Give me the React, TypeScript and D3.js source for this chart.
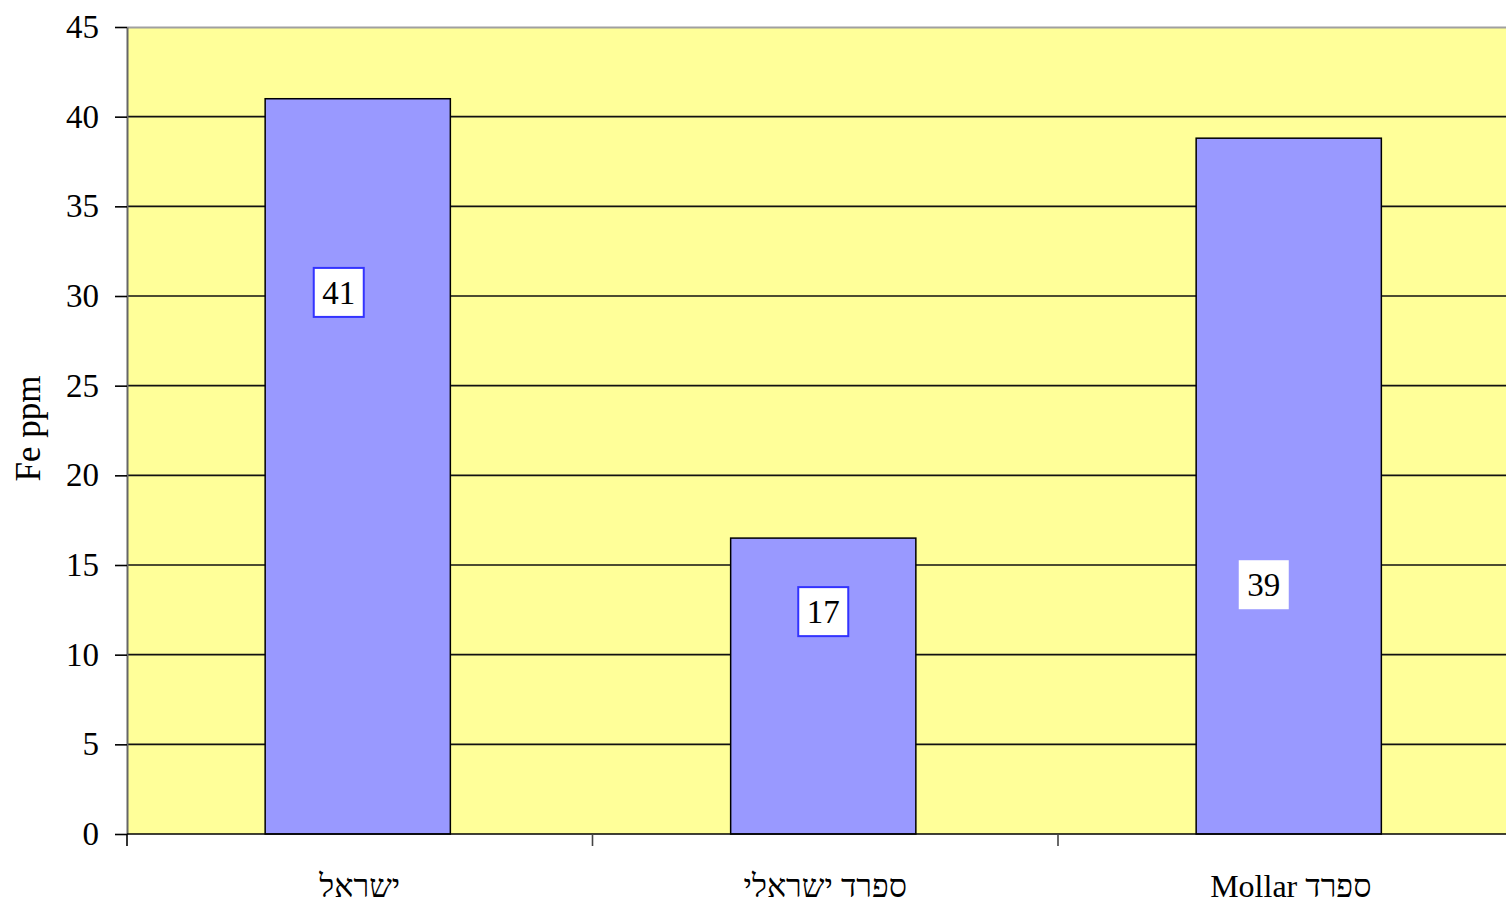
import React, { useEffect, useRef } from "react";
import * as d3 from "d3";

// Data
const categories = ["ישראל", "ספרד ישראלי", "ספרד Mollar"];
const feValues = [41, 16.5, 38.8];
const yTicks = [0, 5, 10, 15, 20, 25, 30, 35, 40, 45];

// Where each value label box sits (dx from bar centre in px, y in data units)
const labelOffsets = [
  { dx: -21, at: 30.2 },
  { dx: -2, at: 12.4 },
  { dx: -27, at: 13.9 },
];
const labelBorders = ["#3333ff", "#3333ff", "none"];

const WIDTH = 1506;
const HEIGHT = 904;
const FONT = "'Liberation Serif', 'Times New Roman', serif";

export default function App() {
  const svgRef = useRef<SVGSVGElement>(null);

  useEffect(() => {
    if (!svgRef.current) return;
    const svg = d3.select(svgRef.current);
    svg.selectAll("*").remove();

    // plot area runs a bit past the right edge of the picture
    const margin = { top: 27, left: 127 };
    const innerWidth = 1396.5;
    const innerHeight = 807;

    const g = svg
      .append("g")
      .attr("transform", `translate(${margin.left},${margin.top})`);

    const x = d3
      .scaleBand<string>()
      .domain(categories)
      .range([0, innerWidth])
      .paddingInner(0.6)
      .paddingOuter(0.3);

    const y = d3.scaleLinear().domain([0, 45]).range([innerHeight, 0]);

    // Plot background
    g.append("rect")
      .attr("x", 0)
      .attr("y", 0)
      .attr("width", innerWidth)
      .attr("height", innerHeight)
      .attr("fill", "#ffff99");

    // top border
    g.append("line")
      .attr("x1", 0)
      .attr("x2", innerWidth)
      .attr("y1", 0.5)
      .attr("y2", 0.5)
      .attr("stroke", "#a0a0a0")
      .attr("stroke-width", 2);

    // Gridlines
    g.selectAll("line.grid")
      .data(yTicks.filter((t) => t > 0 && t < 45))
      .join("line")
      .attr("class", "grid")
      .attr("x1", 0)
      .attr("x2", innerWidth)
      .attr("y1", (d) => y(d))
      .attr("y2", (d) => y(d))
      .attr("stroke", "#111")
      .attr("stroke-width", 1.6);

    // Bars
    g.selectAll("rect.bar")
      .data(feValues)
      .join("rect")
      .attr("class", "bar")
      .attr("x", (_, i) => x(categories[i])! - 1.5)
      .attr("y", (d) => y(d))
      .attr("width", x.bandwidth() - 1)
      .attr("height", (d) => innerHeight - y(d))
      .attr("fill", "#9999ff")
      .attr("stroke", "#000")
      .attr("stroke-width", 1.5);

    // Value labels
    const labels = g
      .selectAll("g.vlabel")
      .data(feValues)
      .join("g")
      .attr("class", "vlabel")
      .attr(
        "transform",
        (_, i) =>
          `translate(${x(categories[i])! + x.bandwidth() / 2 + labelOffsets[i].dx},${y(labelOffsets[i].at)})`
      );

    labels
      .append("rect")
      .attr("x", -25)
      .attr("y", -24.5)
      .attr("width", 50)
      .attr("height", 49)
      .attr("fill", "#fff")
      .attr("stroke", (_, i) => labelBorders[i])
      .attr("stroke-width", 2);

    labels
      .append("text")
      .attr("text-anchor", "middle")
      .attr("dy", "0.35em")
      .attr("fill", "#000")
      .style("font-family", FONT)
      .style("font-size", "33px")
      .text((d) => String(Math.round(d)));

    // Y axis
    const yAxis = g
      .append("g")
      .call(
        d3
          .axisLeft(y)
          .tickValues(yTicks)
          .tickSize(12)
          .tickPadding(16)
          .tickSizeOuter(0)
      );
    yAxis.select(".domain").attr("stroke", "#666").attr("stroke-width", 2);
    yAxis.selectAll(".tick line").attr("stroke", "#000").attr("stroke-width", 1.6);
    yAxis
      .selectAll(".tick text")
      .attr("fill", "#000")
      .style("font-family", FONT)
      .style("font-size", "33px");

    // X axis line and ticks at band boundaries
    g.append("line")
      .attr("x1", 0)
      .attr("x2", innerWidth)
      .attr("y1", innerHeight)
      .attr("y2", innerHeight)
      .attr("stroke", "#000")
      .attr("stroke-width", 1.6);

    const step = x.step();
    g.selectAll("line.xtick")
      .data(d3.range(categories.length + 1))
      .join("line")
      .attr("class", "xtick")
      .attr("x1", (i) => i * step)
      .attr("x2", (i) => i * step)
      .attr("y1", innerHeight)
      .attr("y2", innerHeight + 12)
      .attr("stroke", (i0) => (i0 === 0 ? "#000" : "#444"))
      .attr("stroke-width", 1.6);

    g.selectAll("text.cat")
      .data(categories)
      .join("text")
      .attr("class", "cat")
      .attr("x", (d) => x(d)! + x.bandwidth() / 2)
      .attr("y", innerHeight + 63)
      .attr("text-anchor", "middle")
      .attr("direction", "rtl")
      .attr("fill", "#000")
      .style("font-family", FONT)
      .style("font-size", "32px")
      .text((d) => d);

    // Y axis title
    svg
      .append("text")
      .attr("transform", `translate(40,${margin.top + innerHeight / 2 - 2}) rotate(-90)`)
      .attr("text-anchor", "middle")
      .attr("fill", "#000")
      .style("font-family", FONT)
      .style("font-size", "35px")
      .text("Fe ppm");
  }, []);

  return (
    <svg
      ref={svgRef}
      width={WIDTH}
      height={HEIGHT}
      style={{ position: "absolute", left: 0, top: 0, background: "#fff", display: "block" }}
    />
  );
}
